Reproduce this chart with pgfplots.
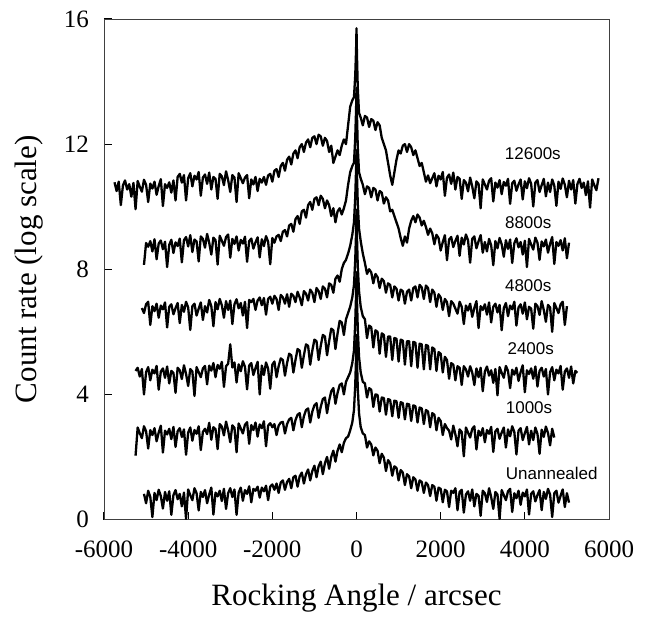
\documentclass[border=0pt]{standalone}
\usepackage{fontspec}
\setmainfont{Liberation Serif}
\newfontfamily\labelfont{Liberation Sans}
\usepackage{pgfplots}
\pgfplotsset{compat=1.18}
\pgfplotsset{curve/.style={black, solid, no markers, line width=2.3pt, line join=round}}
\begin{document}
\begin{tikzpicture}
\useasboundingbox (-104pt,-96.5pt) rectangle (544pt,519.5pt);
\begin{axis}[
  at={(0,0)}, anchor=south west,
  width=505pt, height=500.5pt, scale only axis,
  xmin=-6000, xmax=6000, ymin=0, ymax=16,
  xtick={-6000,-4000,-2000,0,2000,4000,6000},
  xticklabels={-6000,-4000,-2000,0,2000,4000,6000},
  ytick={0,4,8,12,16},
  yticklabels={0,4,8,12,16},
  tick align=inside, xtick pos=left, ytick pos=left,
  major tick length=8pt,
  axis line style={black!75, line width=0.9pt},
  tick style={black, line width=1pt},
  xticklabel style={font=\fontsize{25}{25}\selectfont, anchor=base, inner sep=0pt, yshift=-38pt},
  yticklabel style={font=\fontsize{25}{25}\selectfont, anchor=east, inner sep=0pt, xshift=-15pt},
  xlabel={Rocking Angle / arcsec},
  ylabel={Count rate (log scale)},
  xlabel style={font=\fontsize{31}{31}\selectfont, at={(axis description cs:0.5,0)}, anchor=center, yshift=-79pt},
  ylabel style={font=\fontsize{31}{31}\selectfont, at={(axis description cs:0,0.5)}, anchor=center, yshift=75pt},
]
% Unannealed
\addplot[curve] coordinates {
(-5050,0.82)(-5000,0.52)(-4950,0.92)(-4900,0.72)(-4850,0.08)(-4800,0.85)(-4750,0.62)(-4700,0.95)(-4650,0.75)(-4600,0.35)
(-4550,0.88)(-4500,0.60)(-4450,0.90)(-4400,0.15)(-4350,0.78)(-4300,0.94)(-4250,0.65)(-4200,0.82)(-4150,0.42)(-4100,0.86)
(-4050,0.02)(-4000,0.96)(-3950,0.78)(-3900,0.62)(-3850,1.00)(-3800,0.84)(-3750,0.29)(-3700,0.88)(-3650,0.72)(-3600,0.94)
(-3550,0.52)(-3500,0.80)(-3450,1.02)(-3400,0.16)(-3350,0.86)(-3300,0.74)(-3250,0.92)(-3200,0.59)(-3150,0.98)(-3100,0.34)
(-3050,0.84)(-3000,1.00)(-2950,0.72)(-2900,0.96)(-2850,0.15)(-2800,0.86)(-2750,1.02)(-2700,0.60)(-2650,0.94)(-2600,0.82)
(-2550,1.06)(-2500,0.55)(-2450,0.98)(-2400,0.92)(-2350,1.05)(-2300,0.70)(-2250,1.02)(-2200,0.90)(-2150,1.08)(-2100,0.62)
(-2050,1.05)(-2000,1.12)(-1950,0.95)(-1900,1.15)(-1850,0.85)(-1800,1.18)(-1750,1.25)(-1700,0.95)(-1650,1.20)(-1600,1.30)
(-1550,1.00)(-1500,1.35)(-1450,1.40)(-1400,1.05)(-1350,1.38)(-1300,1.50)(-1250,1.15)(-1200,1.45)(-1150,1.60)(-1100,1.25)
(-1050,1.55)(-1000,1.72)(-950,1.35)(-900,1.70)(-850,1.85)(-800,1.45)(-750,1.80)(-700,2.00)(-650,1.62)(-600,2.00)
(-550,2.20)(-500,1.85)(-450,2.20)(-400,2.40)(-350,2.15)(-300,2.45)(-250,2.60)(-200,2.65)(-150,2.85)(-100,3.10)
(-60,3.50)(-30,4.30)(-10,5.20)(0,5.90)(10,5.20)(30,4.20)(60,3.40)(100,2.95)(150,2.75)(200,2.70)
(250,2.30)(300,2.50)(350,2.40)(400,2.05)(450,2.30)(500,2.20)(550,1.80)(600,2.10)(650,1.98)(700,1.55)
(750,1.90)(800,1.80)(850,1.40)(900,1.70)(950,1.65)(1000,1.25)(1050,1.58)(1100,1.50)(1150,1.10)(1200,1.45)
(1250,1.38)(1300,1.00)(1350,1.35)(1400,1.28)(1450,0.92)(1500,1.25)(1550,1.20)(1600,0.85)(1650,1.18)(1700,1.10)
(1750,0.75)(1800,1.10)(1850,1.05)(1900,0.60)(1950,1.02)(2000,0.98)(2050,0.55)(2100,0.95)(2150,0.90)(2200,0.40)
(2250,0.92)(2300,0.85)(2350,1.00)(2400,0.30)(2450,0.88)(2500,0.95)(2550,0.22)(2600,0.80)(2650,0.90)(2700,0.60)
(2750,0.96)(2800,0.42)(2850,0.82)(2900,0.76)(2950,0.12)(3000,0.92)(3050,0.84)(3100,0.56)(3150,1.00)(3200,0.72)
(3250,0.34)(3300,0.88)(3350,0.80)(3400,0.02)(3450,0.94)(3500,0.78)(3550,0.62)(3600,0.90)(3650,0.98)(3700,0.24)
(3750,0.84)(3800,0.68)(3850,0.92)(3900,0.47)(3950,0.86)(4000,0.74)(4050,0.96)(4100,0.16)(4150,0.82)(4200,0.90)
(4250,0.58)(4300,0.78)(4350,0.94)(4400,0.30)(4450,0.88)(4500,0.66)(4550,0.98)(4600,0.80)(4650,0.08)(4700,0.84)
(4750,0.92)(4800,0.54)(4850,0.76)(4900,0.96)(4950,0.40)(5000,0.84)(5050,0.54)
};
% 1000s
\addplot[curve] coordinates {
(-5250,2.04)(-5200,2.94)(-5150,2.76)(-5100,2.60)(-5050,2.98)(-5000,2.82)(-4950,2.27)(-4900,2.86)(-4850,2.70)(-4800,2.92)
(-4750,2.50)(-4700,2.78)(-4650,3.00)(-4600,2.14)(-4550,2.84)(-4500,2.72)(-4450,2.90)(-4400,2.57)(-4350,2.96)(-4300,2.32)
(-4250,2.82)(-4200,2.92)(-4150,2.64)(-4100,2.88)(-4050,2.07)(-4000,2.78)(-3950,2.94)(-3900,2.52)(-3850,2.86)(-3800,2.74)
(-3750,2.98)(-3700,2.22)(-3650,2.80)(-3600,2.90)(-3550,2.73)(-3500,3.09)(-3450,2.55)(-3400,2.95)(-3350,2.89)(-3300,2.25)
(-3250,3.05)(-3200,2.97)(-3150,2.69)(-3100,3.13)(-3050,2.85)(-3000,2.47)(-2950,3.01)(-2900,2.93)(-2850,2.15)(-2800,3.07)
(-2750,2.91)(-2700,2.75)(-2650,3.03)(-2600,3.11)(-2550,2.42)(-2500,3.02)(-2450,2.86)(-2400,3.10)(-2350,2.65)(-2300,3.04)
(-2250,2.92)(-2200,3.14)(-2150,2.34)(-2100,3.00)(-2050,3.08)(-2000,2.95)(-1950,3.05)(-1900,2.70)(-1850,3.00)(-1800,3.10)
(-1750,3.12)(-1700,2.75)(-1650,3.05)(-1600,3.20)(-1550,3.25)(-1500,2.85)(-1450,3.18)(-1400,3.35)(-1350,3.40)(-1300,2.95)
(-1250,3.30)(-1200,3.50)(-1150,3.55)(-1100,3.10)(-1050,3.45)(-1000,3.65)(-950,3.72)(-900,3.25)(-850,3.60)(-800,3.85)
(-750,3.90)(-700,3.40)(-650,3.80)(-600,4.10)(-550,4.20)(-500,3.70)(-450,4.05)(-400,4.30)(-350,4.35)(-300,4.00)
(-250,4.40)(-200,4.55)(-150,4.70)(-100,5.00)(-60,5.40)(-30,6.30)(-10,7.20)(0,7.90)(10,7.10)(30,6.10)
(60,5.20)(100,4.70)(150,4.40)(200,4.35)(250,3.90)(300,4.20)(350,4.15)(400,3.60)(450,4.00)(500,3.98)
(550,3.45)(600,3.90)(650,3.88)(700,3.35)(750,3.85)(800,3.82)(850,3.30)(900,3.80)(950,3.78)(1000,3.25)
(1050,3.75)(1100,3.72)(1150,3.20)(1200,3.70)(1250,3.68)(1300,3.15)(1350,3.65)(1400,3.62)(1450,3.10)(1500,3.58)
(1550,3.55)(1600,3.05)(1650,3.50)(1700,3.45)(1750,2.95)(1800,3.40)(1850,3.35)(1900,2.85)(1950,3.25)(2000,3.15)
(2050,2.70)(2100,3.05)(2150,2.92)(2200,2.84)(2250,2.56)(2300,3.00)(2350,2.72)(2400,2.34)(2450,2.88)(2500,2.80)
(2550,2.02)(2600,2.94)(2650,2.78)(2700,2.62)(2750,2.90)(2800,2.98)(2850,2.24)(2900,2.84)(2950,2.68)(3000,2.92)
(3050,2.47)(3100,2.86)(3150,2.74)(3200,2.96)(3250,2.16)(3300,2.82)(3350,2.90)(3400,2.58)(3450,2.78)(3500,2.94)
(3550,2.30)(3600,2.88)(3650,2.66)(3700,2.98)(3750,2.80)(3800,2.08)(3850,2.84)(3900,2.92)(3950,2.54)(4000,2.76)
(4050,2.96)(4100,2.40)(4150,2.84)(4200,2.54)(4250,2.94)(4300,2.74)(4350,2.10)(4400,2.87)(4450,2.64)(4500,2.97)
(4550,2.77)(4600,2.37)(4650,2.90)(4700,2.62)
};
% 2400s
\addplot[curve] coordinates {
(-5250,4.75)(-5200,4.85)(-5150,4.57)(-5100,4.81)(-5050,4.00)(-5000,4.71)(-4950,4.87)(-4900,4.45)(-4850,4.79)(-4800,4.67)
(-4750,4.91)(-4700,4.15)(-4650,4.73)(-4600,4.83)(-4550,4.53)(-4500,4.89)(-4450,4.35)(-4400,4.75)(-4350,4.69)(-4300,4.05)
(-4250,4.85)(-4200,4.77)(-4150,4.49)(-4100,4.93)(-4050,4.65)(-4000,4.27)(-3950,4.81)(-3900,4.73)(-3850,3.95)(-3800,4.87)
(-3750,4.71)(-3700,4.55)(-3650,4.83)(-3600,4.91)(-3550,4.32)(-3500,4.92)(-3450,4.76)(-3400,5.00)(-3350,4.55)(-3300,4.94)
(-3250,4.82)(-3200,5.04)(-3150,4.24)(-3100,4.90)(-3050,4.98)(-3000,5.60)(-2950,4.86)(-2900,5.02)(-2850,4.38)(-2800,4.96)
(-2750,4.74)(-2700,5.06)(-2650,4.88)(-2600,4.16)(-2550,4.92)(-2500,5.00)(-2450,4.62)(-2400,4.84)(-2350,5.04)(-2300,4.00)
(-2250,4.92)(-2200,4.62)(-2150,5.02)(-2100,4.82)(-2050,4.18)(-2000,4.95)(-1950,5.05)(-1900,4.55)(-1850,4.90)(-1800,5.15)
(-1750,5.10)(-1700,4.60)(-1650,5.00)(-1600,5.30)(-1550,5.25)(-1500,4.70)(-1450,5.10)(-1400,5.45)(-1350,5.40)(-1300,4.85)
(-1250,5.25)(-1200,5.60)(-1150,5.55)(-1100,4.95)(-1050,5.40)(-1000,5.75)(-950,5.70)(-900,5.10)(-850,5.55)(-800,5.90)
(-750,5.85)(-700,5.25)(-650,5.70)(-600,6.10)(-550,6.05)(-500,5.45)(-450,5.95)(-400,6.35)(-350,6.30)(-300,5.90)
(-250,6.40)(-200,6.60)(-150,6.80)(-100,7.10)(-60,7.50)(-30,8.30)(-10,9.20)(0,9.90)(10,9.10)(30,8.10)
(60,7.30)(100,6.80)(150,6.50)(200,6.40)(250,5.80)(300,6.20)(350,6.15)(400,5.50)(450,6.05)(500,6.00)
(550,5.30)(600,5.95)(650,5.90)(700,5.20)(750,5.85)(800,5.85)(850,5.10)(900,5.80)(950,5.78)(1000,5.05)
(1050,5.75)(1100,5.72)(1150,4.95)(1200,5.70)(1250,5.70)(1300,4.90)(1350,5.68)(1400,5.65)(1450,4.85)(1500,5.62)
(1550,5.60)(1600,4.80)(1650,5.58)(1700,5.55)(1750,4.80)(1800,5.50)(1850,5.45)(1900,4.75)(1950,5.35)(2000,5.30)
(2050,4.70)(2100,5.20)(2150,5.10)(2200,4.50)(2250,5.00)(2300,4.95)(2350,4.45)(2400,4.90)(2450,4.85)(2500,4.30)
(2550,4.90)(2600,4.80)(2650,4.57)(2700,4.90)(2750,4.70)(2800,4.30)(2850,4.83)(2900,4.55)(2950,4.85)(3000,4.10)
(3050,4.73)(3100,4.89)(3150,4.60)(3200,4.77)(3250,4.37)(3300,4.81)(3350,3.97)(3400,4.87)(3450,4.69)(3500,4.53)
(3550,4.91)(3600,4.75)(3650,4.20)(3700,4.79)(3750,4.63)(3800,4.85)(3850,4.43)(3900,4.71)(3950,4.93)(4000,4.07)
(4050,4.77)(4100,4.65)(4150,4.83)(4200,4.50)(4250,4.89)(4300,4.25)(4350,4.75)(4400,4.85)(4450,4.57)(4500,4.81)
(4550,4.00)(4600,4.71)(4650,4.87)(4700,4.45)(4750,4.79)(4800,4.67)(4850,4.91)(4900,4.15)(4950,4.73)(5000,4.83)
(5050,4.53)(5100,4.89)(5150,4.35)(5200,4.75)(5250,4.69)
};
% 4800s
\addplot[curve] coordinates {
(-5100,6.76)(-5050,6.60)(-5000,6.88)(-4950,6.96)(-4900,6.22)(-4850,6.82)(-4800,6.66)(-4750,6.90)(-4700,6.45)(-4650,6.84)
(-4600,6.72)(-4550,6.94)(-4500,6.14)(-4450,6.80)(-4400,6.88)(-4350,6.56)(-4300,6.76)(-4250,6.92)(-4200,6.28)(-4150,6.86)
(-4100,6.64)(-4050,6.96)(-4000,6.78)(-3950,6.06)(-3900,6.82)(-3850,6.90)(-3800,6.52)(-3750,6.74)(-3700,6.94)(-3650,6.38)
(-3600,6.82)(-3550,6.62)(-3500,7.02)(-3450,6.82)(-3400,6.18)(-3350,6.95)(-3300,6.72)(-3250,7.05)(-3200,6.85)(-3150,6.45)
(-3100,6.98)(-3050,6.70)(-3000,7.00)(-2950,6.25)(-2900,6.88)(-2850,7.04)(-2800,6.75)(-2750,6.92)(-2700,6.52)(-2650,6.96)
(-2600,6.12)(-2550,7.02)(-2500,6.95)(-2450,7.05)(-2400,6.70)(-2350,7.00)(-2300,7.10)(-2250,6.85)(-2200,7.08)(-2150,6.55)
(-2100,7.05)(-2050,7.12)(-2000,6.90)(-1950,7.15)(-1900,7.05)(-1850,6.70)(-1800,7.18)(-1750,7.10)(-1700,6.90)(-1650,7.20)
(-1600,6.80)(-1550,7.22)(-1500,7.15)(-1450,6.95)(-1400,7.28)(-1350,7.10)(-1300,6.85)(-1250,7.30)(-1200,7.22)(-1150,7.00)
(-1100,7.35)(-1050,7.25)(-1000,6.95)(-950,7.40)(-900,7.30)(-850,7.05)(-800,7.45)(-750,7.38)(-700,7.10)(-650,7.55)
(-600,7.50)(-550,7.25)(-500,7.70)(-450,7.80)(-400,7.60)(-350,8.00)(-300,8.20)(-250,8.30)(-200,8.50)(-150,8.75)
(-100,9.10)(-60,9.50)(-30,10.30)(-10,11.20)(0,11.80)(10,11.10)(30,10.10)(60,9.30)(100,8.90)(150,8.50)
(200,8.20)(250,7.85)(300,8.00)(350,7.90)(400,7.55)(450,7.85)(500,7.75)(550,7.40)(600,7.70)(650,7.62)
(700,7.25)(750,7.55)(800,7.50)(850,7.10)(900,7.45)(950,7.38)(1000,7.00)(1050,7.35)(1100,7.30)(1150,6.90)
(1200,7.28)(1250,7.35)(1300,7.00)(1350,7.40)(1400,7.45)(1450,7.10)(1500,7.50)(1550,7.42)(1600,7.05)(1650,7.48)
(1700,7.40)(1750,6.95)(1800,7.35)(1850,7.25)(1900,6.80)(1950,7.20)(2000,7.10)(2050,6.70)(2100,7.05)(2150,6.95)
(2200,6.50)(2250,6.98)(2300,6.90)(2350,6.74)(2400,6.58)(2450,6.96)(2500,6.80)(2550,6.25)(2600,6.84)(2650,6.68)
(2700,6.90)(2750,6.48)(2800,6.76)(2850,6.98)(2900,6.12)(2950,6.82)(3000,6.70)(3050,6.88)(3100,6.55)(3150,6.94)
(3200,6.30)(3250,6.80)(3300,6.90)(3350,6.62)(3400,6.86)(3450,6.05)(3500,6.76)(3550,6.92)(3600,6.50)(3650,6.84)
(3700,6.72)(3750,6.96)(3800,6.20)(3850,6.78)(3900,6.88)(3950,6.58)(4000,6.94)(4050,6.40)(4100,6.80)(4150,6.74)
(4200,6.10)(4250,6.90)(4300,6.82)(4350,6.54)(4400,6.98)(4450,6.70)(4500,6.32)(4550,6.86)(4600,6.78)(4650,6.00)
(4700,6.92)(4750,6.76)(4800,6.60)(4850,6.88)(4900,6.96)(4950,6.22)(5000,6.82)
};
% 8800s
\addplot[curve] coordinates {
(-5050,8.14)(-5000,8.84)(-4950,8.72)(-4900,8.90)(-4850,8.57)(-4800,8.96)(-4750,8.32)(-4700,8.82)(-4650,8.92)(-4600,8.64)
(-4550,8.88)(-4500,8.07)(-4450,8.78)(-4400,8.94)(-4350,8.52)(-4300,8.86)(-4250,8.74)(-4200,8.98)(-4150,8.22)(-4100,8.93)
(-4050,9.03)(-4000,8.73)(-3950,9.09)(-3900,8.55)(-3850,8.95)(-3800,8.89)(-3750,8.25)(-3700,9.05)(-3650,8.97)(-3600,8.69)
(-3550,9.13)(-3500,8.85)(-3450,8.47)(-3400,9.01)(-3350,8.93)(-3300,8.15)(-3250,9.07)(-3200,8.91)(-3150,8.75)(-3100,9.03)
(-3050,9.11)(-3000,8.37)(-2950,8.97)(-2900,8.81)(-2850,9.05)(-2800,8.60)(-2750,8.94)(-2700,8.82)(-2650,9.04)(-2600,8.24)
(-2550,8.90)(-2500,8.98)(-2450,8.66)(-2400,8.86)(-2350,9.02)(-2300,8.38)(-2250,8.96)(-2200,8.74)(-2150,9.06)(-2100,8.88)
(-2050,8.16)(-2000,9.00)(-1950,8.85)(-1900,9.05)(-1850,9.10)(-1800,8.90)(-1750,9.20)(-1700,9.25)(-1650,9.05)(-1600,9.40)
(-1550,9.45)(-1500,9.20)(-1450,9.60)(-1400,9.70)(-1350,9.45)(-1300,9.85)(-1250,9.90)(-1200,9.65)(-1150,10.05)(-1100,10.15)
(-1050,9.90)(-1000,10.25)(-950,10.30)(-900,10.05)(-850,10.35)(-800,10.25)(-750,9.95)(-700,10.20)(-650,10.05)(-600,9.70)
(-550,9.95)(-500,9.50)(-450,9.85)(-400,9.95)(-350,9.75)(-300,9.95)(-250,10.20)(-200,10.70)(-150,11.10)(-100,11.30)
(-60,11.40)(-30,12.20)(-10,13.10)(0,13.80)(10,13.00)(30,11.90)(60,11.10)(100,10.90)(150,10.70)(200,10.40)
(250,10.65)(300,10.60)(350,10.30)(400,10.60)(450,10.55)(500,10.20)(550,10.50)(600,10.45)(650,10.10)(700,10.30)
(750,10.20)(800,9.85)(850,9.90)(900,9.70)(950,9.50)(1000,9.30)(1050,9.00)(1100,8.75)(1150,9.05)(1200,8.85)
(1250,9.30)(1300,9.55)(1350,9.70)(1400,9.50)(1450,9.75)(1500,9.65)(1550,9.40)(1600,9.55)(1650,9.35)(1700,9.10)
(1750,9.30)(1800,9.15)(1850,8.80)(1900,9.10)(1950,9.00)(2000,8.60)(2050,8.87)(2100,9.09)(2150,8.29)(2200,8.95)
(2250,9.03)(2300,8.71)(2350,8.91)(2400,9.07)(2450,8.43)(2500,9.01)(2550,8.79)(2600,9.11)(2650,8.93)(2700,8.21)
(2750,8.97)(2800,9.05)(2850,8.67)(2900,8.89)(2950,9.09)(3000,8.53)(3050,8.87)(3100,8.57)(3150,8.97)(3200,8.77)
(3250,8.13)(3300,8.90)(3350,8.67)(3400,9.00)(3450,8.80)(3500,8.40)(3550,8.93)(3600,8.65)(3650,8.95)(3700,8.20)
(3750,8.83)(3800,8.99)(3850,8.70)(3900,8.87)(3950,8.47)(4000,8.91)(4050,8.07)(4100,8.97)(4150,8.79)(4200,8.63)
(4250,9.01)(4300,8.85)(4350,8.30)(4400,8.89)(4450,8.73)(4500,8.95)(4550,8.53)(4600,8.81)(4650,9.03)(4700,8.17)
(4750,8.87)(4800,8.75)(4850,8.93)(4900,8.60)(4950,8.99)(5000,8.35)(5050,8.85)
};
% 12600s
\addplot[curve] coordinates {
(-5750,10.78)(-5700,10.50)(-5650,10.80)(-5600,10.05)(-5550,10.68)(-5500,10.84)(-5450,10.55)(-5400,10.72)(-5350,10.32)(-5300,10.76)
(-5250,9.92)(-5200,10.82)(-5150,10.64)(-5100,10.48)(-5050,10.86)(-5000,10.70)(-4950,10.15)(-4900,10.74)(-4850,10.58)(-4800,10.80)
(-4750,10.38)(-4700,10.66)(-4650,10.88)(-4600,10.02)(-4550,10.72)(-4500,10.60)(-4450,10.78)(-4400,10.45)(-4350,10.84)(-4300,10.20)
(-4250,10.95)(-4200,11.05)(-4150,10.77)(-4100,11.01)(-4050,10.20)(-4000,10.91)(-3950,11.07)(-3900,10.65)(-3850,10.99)(-3800,10.87)
(-3750,11.11)(-3700,10.35)(-3650,10.93)(-3600,11.03)(-3550,10.73)(-3500,11.09)(-3450,10.55)(-3400,10.95)(-3350,10.89)(-3300,10.25)
(-3250,11.05)(-3200,10.97)(-3150,10.69)(-3100,11.13)(-3050,10.85)(-3000,10.47)(-2950,11.01)(-2900,10.93)(-2850,10.15)(-2800,11.07)
(-2750,10.91)(-2700,10.75)(-2650,10.93)(-2600,11.01)(-2550,10.27)(-2500,10.87)(-2450,10.71)(-2400,10.95)(-2350,10.50)(-2300,10.89)
(-2250,10.77)(-2200,10.95)(-2150,10.70)(-2100,11.00)(-2050,11.05)(-2000,10.80)(-1950,11.15)(-1900,11.20)(-1850,10.95)(-1800,11.30)
(-1750,11.40)(-1700,11.15)(-1650,11.50)(-1600,11.60)(-1550,11.35)(-1500,11.70)(-1450,11.80)(-1400,11.55)(-1350,11.90)(-1300,12.00)
(-1250,11.75)(-1200,12.05)(-1150,12.15)(-1100,11.90)(-1050,12.20)(-1000,12.25)(-950,12.00)(-900,12.30)(-850,12.25)(-800,11.95)
(-750,12.20)(-700,12.10)(-650,11.75)(-600,11.95)(-550,11.40)(-500,11.60)(-450,11.80)(-400,11.65)(-350,11.95)(-300,12.15)
(-250,12.00)(-200,12.60)(-150,13.20)(-100,13.40)(-60,13.50)(-30,14.20)(-10,15.00)(0,15.70)(10,14.90)(30,13.80)
(60,13.00)(100,12.85)(150,12.60)(200,12.90)(250,12.85)(300,12.55)(350,12.80)(400,12.75)(450,12.45)(500,12.70)
(550,12.60)(600,12.20)(650,12.00)(700,11.80)(750,11.40)(800,11.00)(850,10.70)(900,11.10)(950,11.50)(1000,11.80)
(1050,11.70)(1100,11.95)(1150,12.00)(1200,11.75)(1250,12.00)(1300,11.90)(1350,11.65)(1400,11.80)(1450,11.55)(1500,11.30)
(1550,11.40)(1600,11.10)(1650,10.80)(1700,11.00)(1750,10.75)(1800,10.91)(1850,11.07)(1900,10.65)(1950,10.99)(2000,10.87)
(2050,11.11)(2100,10.35)(2150,10.93)(2200,11.03)(2250,10.73)(2300,11.09)(2350,10.55)(2400,10.95)(2450,10.89)(2500,10.25)
(2550,10.85)(2600,10.77)(2650,10.49)(2700,10.93)(2750,10.65)(2800,10.27)(2850,10.81)(2900,10.73)(2950,9.95)(3000,10.87)
(3050,10.71)(3100,10.55)(3150,10.83)(3200,10.91)(3250,10.17)(3300,10.77)(3350,10.61)(3400,10.85)(3450,10.40)(3500,10.79)
(3550,10.67)(3600,10.89)(3650,10.09)(3700,10.75)(3750,10.83)(3800,10.51)(3850,10.71)(3900,10.87)(3950,10.23)(4000,10.81)
(4050,10.59)(4100,10.91)(4150,10.73)(4200,10.01)(4250,10.77)(4300,10.85)(4350,10.47)(4400,10.69)(4450,10.89)(4500,10.33)
(4550,10.77)(4600,10.47)(4650,10.87)(4700,10.67)(4750,10.03)(4800,10.80)(4850,10.57)(4900,10.90)(4950,10.70)(5000,10.30)
(5050,10.83)(5100,10.55)(5150,10.85)(5200,10.10)(5250,10.73)(5300,10.89)(5350,10.60)(5400,10.77)(5450,10.37)(5500,10.81)
(5550,9.97)(5600,10.87)(5650,10.69)(5700,10.53)(5750,10.91)
};
\begin{scope}[every node/.style={font=\labelfont\fontsize{17}{17}\selectfont, inner sep=0pt}]
\node at (axis cs:4190,11.68) {12600s};
\node at (axis cs:4080,9.50) {8800s};
\node at (axis cs:4080,7.49) {4800s};
\node at (axis cs:4140,5.45) {2400s};
\node at (axis cs:4100,3.59) {1000s};
\node at (axis cs:4640,1.48) {Unannealed};
\end{scope}
\end{axis}
\end{tikzpicture}
\end{document}
